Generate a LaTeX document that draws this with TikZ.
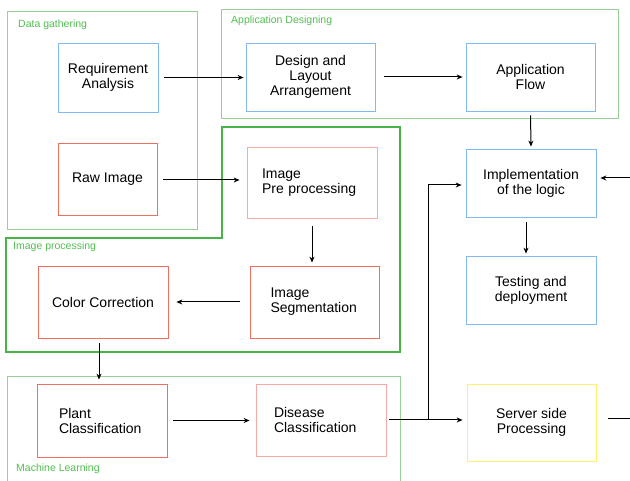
\documentclass[tikz,border=0pt]{standalone}
\usepackage{fontspec}
\setmainfont{Liberation Sans}
\usepackage{tikz}
\usetikzlibrary{arrows.meta}

\definecolor{boxblue}{RGB}{130,185,240}
\definecolor{boxred}{RGB}{240,110,95}
\definecolor{boxpink}{RGB}{245,170,165}
\definecolor{boxyellow}{RGB}{255,240,110}
\definecolor{framegreen}{RGB}{150,210,150}
\definecolor{darkgreen}{RGB}{70,180,70}
\definecolor{labelgreen}{RGB}{80,190,80}

\begin{document}
\begin{tikzpicture}[x=1pt, y=-1pt,
		box_style/.style={rectangle,draw,line width=0.8pt,inner sep=0pt,font=\fontsize{14}{15}\selectfont,align=center},
		blue_box/.style={box_style,draw=boxblue},
		red_box/.style={box_style,draw=boxred},
		pink_box/.style={box_style,draw=boxpink},
		yellow_box/.style={box_style,draw=boxyellow},
		frame_style/.style={draw=framegreen,line width=0.8pt},
		frame_label/.style={anchor=west,inner sep=0pt,text=labelgreen,font=\fontsize{10.5}{12}\selectfont},
		edge_style/.style={draw=black,line width=1pt,-{Stealth[length=6pt,width=5pt]}}]

		\useasboundingbox (0,0) rectangle (630,481);

		% group frames
		\draw[frame_style] (7,11) rectangle (197,229);
		\draw[frame_style] (221,9) rectangle (618,118);
		\draw[frame_style] (7,376) -- (7,481) (400,481) -- (400,376) -- (7,376);
		\draw[draw=darkgreen,line width=1.2pt] (222,127) -- (400,127) -- (400,352) -- (6,352) -- (6,238) -- (222,238) -- cycle;

		\node[frame_label] (l1) at (18,25) {Data gathering};
		\node[frame_label] (l2) at (231,21) {Application Designing};
		\node[frame_label] (l3) at (13,247) {Image processing};
		\node[frame_label] (l4) at (16,469) {Machine Learning};

		% boxes
		\node[blue_box, minimum width=100, minimum height=69] (req) at (108,77.5) {Requirement\\Analysis};
		\node[red_box, minimum width=99, minimum height=72] (raw) at (107.5,179) {Raw Image};
		\node[blue_box, minimum width=129, minimum height=68] (design) at (310.5,77) {Design and\\Layout\\Arrangement};
		\node[blue_box, minimum width=129, minimum height=68] (flow) at (530.5,77) {Application\\Flow};
		\node[pink_box, minimum width=130, minimum height=71, align=left, text width=100] (pre) at (312,182.5) {Image\\Pre processing};
		\node[red_box, minimum width=129, minimum height=72, align=left, text width=88] (seg) at (314.5,302) {Image\\Segmentation};
		\node[red_box, minimum width=130, minimum height=72] (color) at (103,302) {Color Correction};
		\node[blue_box, minimum width=130, minimum height=68] (impl) at (531,183) {Implementation\\of the logic};
		\node[blue_box, minimum width=130, minimum height=68] (test) at (531,290) {Testing and\\deployment};
		\node[red_box, minimum width=130, minimum height=73, align=left, text width=86] (plant) at (102,420.5) {Plant\\Classification};
		\node[pink_box, minimum width=130, minimum height=72, align=left, text width=94] (disease) at (321,420) {Disease\\Classification};
		\node[yellow_box, minimum width=129, minimum height=77] (server) at (531.5,422.5) {Server side\\Processing};

		\coordinate (split) at (428,419);
		\coordinate (right_in) at (630,178);
		\coordinate (right_out) at (630,419);

		% connectors
		\draw[edge_style, shorten <=6pt, shorten >=2pt] (req.east) -- (req.east -| design.west);
		\draw[edge_style, shorten <=9pt, shorten >=3pt] (design.east) -- (flow.west);
		\draw[edge_style, shorten <=4pt, shorten >=2pt] (flow.south) -- (impl.north);
		\draw[edge_style, shorten <=5pt, shorten >=2pt] ([xshift=-5pt]impl.south) -- ([xshift=-5pt]test.north);
		\draw[edge_style, shorten <=6pt, shorten >=7pt] ([yshift=-1pt]raw.east) -- ([yshift=-1pt]raw.east -| pre.west);
		\draw[edge_style, shorten <=8pt, shorten >=3pt] (pre.south) -- (pre.south |- seg.north);
		\draw[edge_style, shorten <=10pt, shorten >=8pt] (seg.west) -- (color.east);
		\draw[edge_style, shorten <=5pt, shorten >=4pt] ([xshift=-4pt]color.south) -- ([xshift=-4pt]color.south |- plant.north);
		\draw[edge_style, shorten <=6pt, shorten >=6pt] (plant.east) -- (plant.east -| disease.west);
		\draw[edge_style, shorten <=3pt, shorten >=4pt] (disease.east) -- (disease.east -| server.west);
		\draw[edge_style, shorten >=4pt] (split) |- ([yshift=-2pt]impl.west);
		\draw[edge_style, shorten >=4pt] (right_in) -- (right_in -| impl.east);
		\draw[draw=black, line width=1pt, shorten <=12pt] (server.east |- right_out) -- (right_out);

\end{tikzpicture}
\end{document}
